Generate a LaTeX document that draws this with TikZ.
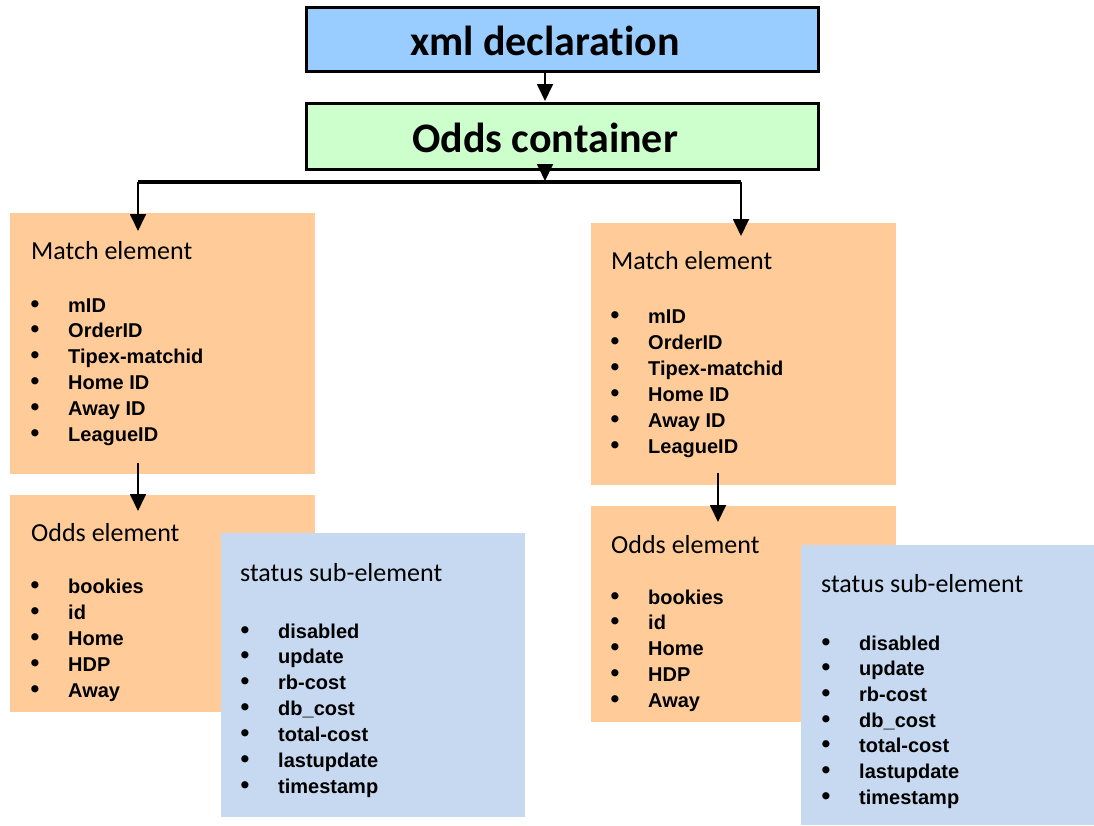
\documentclass[tikz,border=0pt]{standalone}
\usepackage{fontspec}
\setmainfont{Carlito}[Ligatures=NoCommon]
\newfontfamily\itemfont{Liberation Sans}
\usetikzlibrary{arrows.meta}
\definecolor{xmlblue}{RGB}{153,204,255}
\definecolor{contgreen}{RGB}{204,255,204}
\definecolor{peach}{RGB}{255,204,153}
\definecolor{statblue}{RGB}{198,217,240}
\begin{document}
\begin{tikzpicture}[x=1pt,y=-1pt,
  topbox/.style={draw=black, line width=2.5pt, anchor=north west, inner sep=0pt},
  elbox/.style={anchor=north west, inner sep=0pt, fill=peach, minimum width=305pt},
  stbox/.style={anchor=north west, inner sep=0pt, fill=statblue},
  title/.style={anchor=base west, inner sep=0pt, font=\fontsize{26}{30}\selectfont},
  big/.style={anchor=base, inner sep=0pt, font=\fontsize{42}{48}\selectfont\bfseries},
  itm/.style={anchor=base west, inner sep=0pt, font=\itemfont\bfseries\fontsize{20}{24}\selectfont},
  bul/.style={anchor=base, inner sep=0pt, font=\itemfont\bfseries\fontsize{25}{24}\selectfont},
  conn/.style={line width=1.8pt, -{Triangle[width=16pt,length=17pt]}},
  bus/.style={line width=3.5pt}
]
\useasboundingbox (0,0) rectangle (1094,825);

% top boxes with slight shadow
\fill[gray!55] (308,9) rectangle (820,73);
\node[topbox, fill=xmlblue, minimum width=512pt, minimum height=64pt] (xml) at (305,6) {};
\node[big] (xmlt) at (545,55) {xml declaration};
\fill[gray!55] (308,105) rectangle (820,171);
\node[topbox, fill=contgreen, minimum width=512pt, minimum height=66pt] (cont) at (305,102) {};
\node[big] (contt) at (545,152) {Odds container};

% element boxes
\node[elbox, minimum height=261pt] (mL) at (10,213) {};
\node[elbox, minimum height=217pt] (oL) at (10,495) {};
\node[stbox, minimum width=304pt, minimum height=284pt] (sL) at (221,533) {};
\node[elbox, minimum height=262pt] (mR) at (591,223) {};
\node[elbox, minimum height=216pt] (oR) at (591,506) {};
\node[stbox, minimum width=293pt, minimum height=280pt] (sR) at (801,545) {};

% connectors
\coordinate (xmlOut) at (545,71);
\coordinate (contIn) at (545,101);
\coordinate (contOut) at (545,166);
\coordinate (busM) at (545,181);
\coordinate (busL) at (138,182);
\coordinate (busR) at (741,182);
\coordinate (mLin) at (138,231);
\coordinate (mRin) at (741,236);
\coordinate (mLout) at (138,463);
\coordinate (oLin) at (138,511);
\coordinate (mRout) at (718,473);
\coordinate (oRin) at (718,522);
\draw[conn] (xmlOut) -- (contIn);
\draw[bus] (busL) -- (busR);
\draw[conn] (contOut) -- (busM);
\draw[conn] (busL) -- (mLin);
\draw[conn] (busR) -- (mRin);
\draw[conn] (mLout) -- (oLin);
\draw[conn] (mRout) -- (oRin);

% left match
\node[title] (mLt) at (31,259) {Match element};
\foreach \t [count=\i from 0] in {mID,OrderID,Tipex-matchid,Home ID,Away ID,LeagueID} {
  \node[bul] (mLb\i) at (35,312+25.8*\i) {\textbullet};
  \node[itm] (mLi\i) at (68,312+25.8*\i) {\t};
}
% right match
\node[title] (mRt) at (611,269) {Match element};
\foreach \t [count=\i from 0] in {mID,OrderID,Tipex-matchid,Home ID,Away ID,LeagueID} {
  \node[bul] (mRb\i) at (615,323+26*\i) {\textbullet};
  \node[itm] (mRi\i) at (648,323+26*\i) {\t};
}
% left odds
\node[title] (oLt) at (31,541) {Odds element};
\foreach \t [count=\i from 0] in {bookies,id,Home,HDP,Away} {
  \node[bul] (oLb\i) at (35,593+26*\i) {\textbullet};
  \node[itm] (oLi\i) at (68,593+26*\i) {\t};
}
% right odds
\node[title] (oRt) at (611,553) {Odds element};
\foreach \t [count=\i from 0] in {bookies,id,Home,HDP,Away} {
  \node[bul] (oRb\i) at (615,604+25.8*\i) {\textbullet};
  \node[itm] (oRi\i) at (648,604+25.8*\i) {\t};
}
% left status
\node[title] (sLt) at (240,581) {status sub-element};
\foreach \t [count=\i from 0] in {disabled,update,rb-cost,db\_cost,total-cost,lastupdate,timestamp} {
  \node[bul] (sLb\i) at (245,638+25.9*\i) {\textbullet};
  \node[itm] (sLi\i) at (278,638+25.9*\i) {\t};
}
% right status
\node[title] (sRt) at (821,592) {status sub-element};
\foreach \t [count=\i from 0] in {disabled,update,rb-cost,db\_cost,total-cost,lastupdate,timestamp} {
  \node[bul] (sRb\i) at (826,650+25.7*\i) {\textbullet};
  \node[itm] (sRi\i) at (859,650+25.7*\i) {\t};
}
\end{tikzpicture}
\end{document}
